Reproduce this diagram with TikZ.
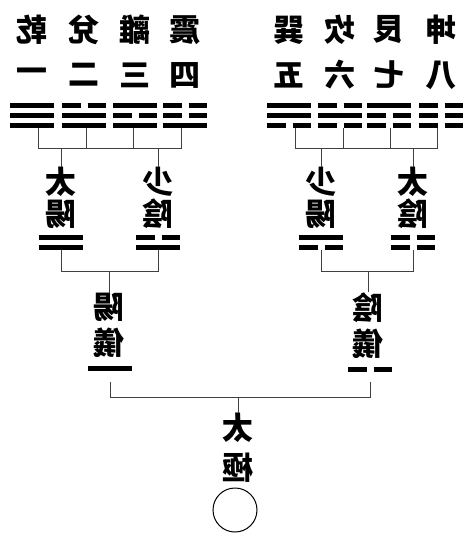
\documentclass[tikz,border=0pt]{standalone}
\usepackage{fontspec}
\newfontfamily\cjk{Noto Sans CJK TC}
\usepackage{tikz}
\newcommand{\jing}[1]{\reflectbox{#1}}
% one line of a trigram: x centre, y, 1 = whole, 0 = broken
\newcommand{\yao}[3]{%
  \ifnum#3=1
    \draw[yaoline] (#1-22,#2) -- (#1+22,#2);
  \else
    \draw[yaoline] (#1-22,#2) -- (#1-3.5,#2) (#1+3.5,#2) -- (#1+22,#2);
  \fi}

\begin{document}
\begin{tikzpicture}[x=1pt, y=-1pt,
		yaoline/.style={line width=5pt},
		conn/.style={line width=1pt, black!75},
		zi/.style={font=\cjk\bfseries\fontsize{31}{32}\selectfont, inner sep=0pt, align=center}]
				\useasboundingbox (0,0) rectangle (474,547);
				\foreach \x/\lx/\a/\b/\c/\nm/\gname/\num in {32/38/1/1/1/qian/乾/一, 84/86/0/1/1/dui/兌/二, 135/133/1/0/1/li/離/三, 185/181/0/0/1/zhen/震/四, 289/295/1/1/0/xun/巽/五, 340/343/0/1/0/kan/坎/六, 389/390/1/0/0/gen/艮/七, 441/437/0/0/0/kun/坤/八} {
					\yao{\x}{105.5}{\a}
					\yao{\x}{115.5}{\b}
					\yao{\x}{125.5}{\c}
					\coordinate (\nm) at (\lx,128);
					\node[zi] (\nm-name) at (\x,30) {\jing{\gname}};
					\node[zi] (\nm-num) at (\x,75) {\jing{\num}};
				}
				\foreach \x/\a/\b/\nm/\ta/\tb in {61/1/1/taiyang/太/陽, 158/0/1/shaoyin/少/陰, 321/1/0/shaoyang/少/陽, 413/0/0/taiyin/太/陰} {
					\yao{\x}{237}{\a}
					\yao{\x}{247}{\b}
					\coordinate (\nm) at (\x,250);
					\node[zi] (\nm-name) at (\x,198) {\jing{\ta}\\\jing{\tb}};
				}
				\draw[conn] (qian) -- ++(0,20) coordinate (lb) -| (zhen);
				\draw[conn] (xun) -- ++(0,20) coordinate (rb) -| (kun);
				\foreach \nm in {dui,li,taiyang-name.north,shaoyin-name.north}
					\draw[conn] (\nm) -- (\nm |- lb);
				\foreach \nm in {kan,gen,shaoyang-name.north,taiyin-name.north}
					\draw[conn] (\nm) -- (\nm |- rb);
				% two forms
				\yao{110}{368.5}{1}
				\yao{370}{369.5}{0}
				\node[zi, font=\cjk\bfseries\fontsize{31}{36}\selectfont] (yangyi-name) at (109,325.5) {\jing{陽}\\\jing{儀}};
				\node[zi, font=\cjk\bfseries\fontsize{31}{36}\selectfont] (yinyi-name) at (368,325.5) {\jing{陰}\\\jing{儀}};
				\coordinate (yangyi) at (110,382);
				\coordinate (yinyi) at (370,382);
				\draw[conn] (taiyang) -- ++(0,21) coordinate (lm) -| (shaoyin);
				\draw[conn] (shaoyang) -- ++(0,21) coordinate (rm) -| (taiyin);
				\draw[conn] (yangyi-name.north) -- (yangyi-name.north |- lm);
				\draw[conn] (yinyi-name.north) -- (yinyi-name.north |- rm);
				\draw[conn] (yangyi) -- ++(0,15) coordinate (bb) -| (yinyi);
				\node[zi, font=\cjk\bfseries\fontsize{31}{40}\selectfont] (taiji-name) at (238,447.5) {\jing{太}\\\jing{極}};
				\draw[conn] (taiji-name.north) -- (taiji-name.north |- bb);
				\node[draw, circle, line width=1pt, minimum size=44pt, inner sep=0pt] (taiji) at (235,510) {};
			\end{tikzpicture}
\end{document}
